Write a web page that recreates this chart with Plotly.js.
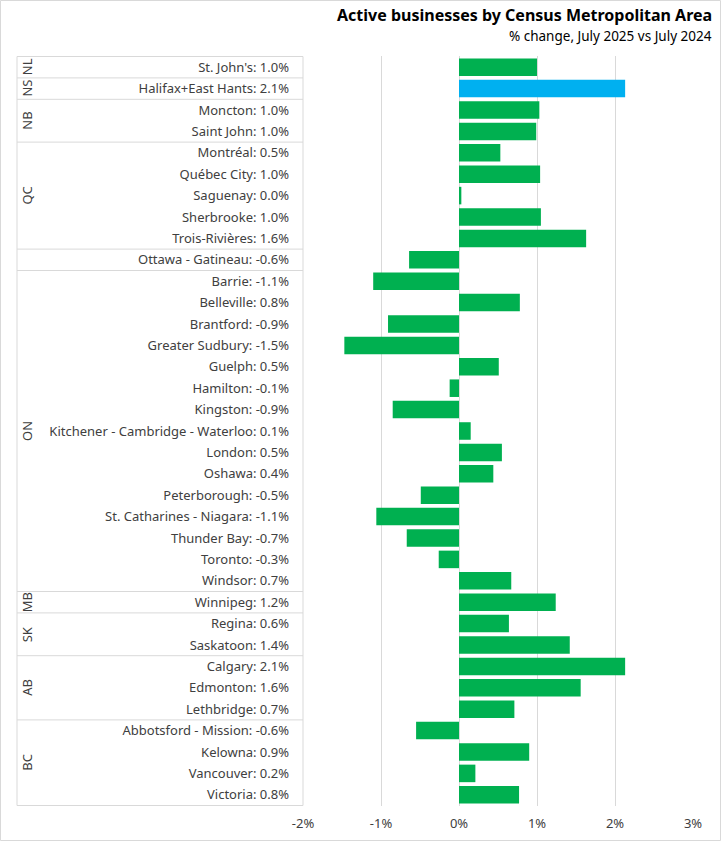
<!DOCTYPE html>
<html><head><meta charset="utf-8">
<script src="https://cdn.plot.ly/plotly-3.0.1.min.js"></script>
<style>html,body{margin:0;padding:0;background:#fff}#chart{width:721px;height:841px}</style>
</head><body><div id="chart"></div>
<script>
const cities = ["St. John's","Halifax+East Hants","Moncton","Saint John","Montréal","Québec City","Saguenay","Sherbrooke","Trois-Rivières","Ottawa - Gatineau","Barrie","Belleville","Brantford","Greater Sudbury","Guelph","Hamilton","Kingston","Kitchener - Cambridge - Waterloo","London","Oshawa","Peterborough","St. Catharines - Niagara","Thunder Bay","Toronto","Windsor","Winnipeg","Regina","Saskatoon","Calgary","Edmonton","Lethbridge","Abbotsford - Mission","Kelowna","Vancouver","Victoria"];
const values = [1.0,2.13,1.03,0.99,0.53,1.04,0.03,1.05,1.63,-0.64,-1.10,0.78,-0.91,-1.47,0.51,-0.12,-0.85,0.15,0.55,0.44,-0.49,-1.06,-0.67,-0.26,0.67,1.24,0.64,1.42,2.13,1.56,0.71,-0.55,0.90,0.21,0.77];
const labelValues = ["1.0","2.1","1.0","1.0","0.5","1.0","0.0","1.0","1.6","-0.6","-1.1","0.8","-0.9","-1.5","0.5","-0.1","-0.9","0.1","0.5","0.4","-0.5","-1.1","-0.7","-0.3","0.7","1.2","0.6","1.4","2.1","1.6","0.7","-0.6","0.9","0.2","0.8"];
const provinces = ["NL","NS","NB","QC","","ON","MB","SK","AB","BC"];
const groupStart = [0,1,2,4,9,10,25,26,28,31];
const groupEnd   = [0,1,3,8,9,24,25,27,30,34];
const highlight = "Halifax+East Hants";
const xTicks = [-2,-1,0,1,2,3];

const labels = cities.map((c,i)=>c+": "+labelValues[i]+"%");
const colors = cities.map(c=> c===highlight ? "#00B0F0" : "#00B050");

const W=721,H=841,L=303,R=28,T=56,B=35;
const pw=W-L-R;
const px = v => (v-L)/pw;
const FONT='Noto Sans, Arial';

const shapes=[];
const lineC="#D9D9D9";
shapes.push({type:'rect',xref:'paper',yref:'paper',x0:px(0.5),x1:px(W-0.5),y0:-(B-0.5)/(H-T-B),y1:1+(T-0.5)/(H-T-B),line:{color:lineC,width:1}});
const bounds=[-0.5].concat(groupEnd.map(e=>e+0.5));
bounds.forEach(b=>shapes.push({type:'line',xref:'paper',yref:'y',x0:px(17),x1:0,y0:b,y1:b,line:{color:lineC,width:1}}));
shapes.push({type:'line',xref:'paper',yref:'y',x0:px(17),x1:px(17),y0:-0.5,y1:34.5,line:{color:lineC,width:1}});
shapes.push({type:'line',xref:'paper',yref:'y',x0:0,x1:0,y0:-0.5,y1:34.5,line:{color:lineC,width:1}});

const annotations=[];
provinces.forEach((p,i)=>{ if(!p) return;
  annotations.push({xref:'paper',yref:'y',x:px(27),y:(groupStart[i]+groupEnd[i])/2,text:p,showarrow:false,textangle:-90,
    font:{family:FONT,size:13,color:'#404040'},xanchor:'center',yanchor:'middle'});
});
annotations.push({xref:'paper',yref:'paper',x:px(714),y:1+(T-15)/(H-T-B),text:'<b>Active businesses by Census Metropolitan Area</b>',showarrow:false,xanchor:'right',yanchor:'middle',font:{family:FONT,size:16,color:'#000'}});
annotations.push({xref:'paper',yref:'paper',x:px(714),y:1+(T-36)/(H-T-B),text:'% change, July 2025 vs July 2024',showarrow:false,xanchor:'right',yanchor:'middle',font:{family:FONT,size:13.5,color:'#000'}});

Plotly.newPlot('chart',[{
  type:'bar',orientation:'h',x:values,y:labels,marker:{color:colors},hoverinfo:'x+y'
}],{
  width:W,height:H,margin:{l:L,r:R,t:T,b:B,pad:0},
  paper_bgcolor:'#fff',plot_bgcolor:'#fff',showlegend:false,bargap:0.18,
  font:{family:FONT,size:13,color:'#404040'},
  xaxis:{range:[-2,3],tickvals:xTicks,ticktext:xTicks.map(v=>v+'%'),showgrid:true,gridcolor:lineC,gridwidth:1,zeroline:true,zerolinecolor:lineC,zerolinewidth:1,showline:false,ticks:'',ticklabelstandoff:8,tickfont:{size:13,color:'#404040'},fixedrange:true},
  yaxis:{type:'category',autorange:'reversed',showgrid:false,zeroline:false,showline:false,ticks:'',ticklabelstandoff:13,tickfont:{size:13,color:'#404040'},fixedrange:true},
  shapes:shapes,annotations:annotations
},{displayModeBar:false,staticPlot:true});
</script></body></html>
